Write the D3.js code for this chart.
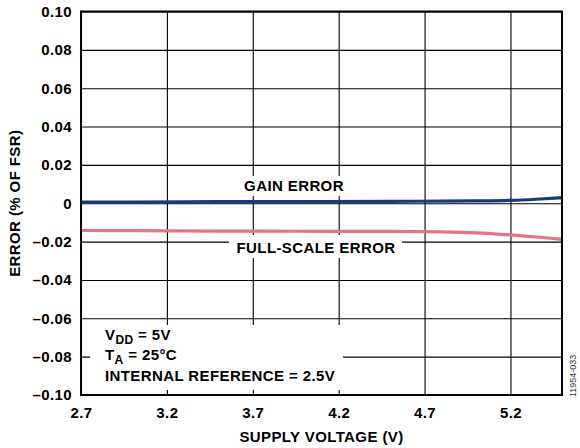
<!DOCTYPE html>
<html>
<head>
<meta charset="utf-8">
<script src="https://cdn.jsdelivr.net/npm/d3@7"></script>
<style>
  body { margin: 0; background: #fff; }
  text { font-family: Arial, "Liberation Sans", sans-serif; }
</style>
</head>
<body>
<div id="graphHolder"></div>
<script>
// supply voltage (V)
var voltage = [2.7, 3.0, 3.5, 4.0, 4.5, 4.8, 5.0, 5.2, 5.35, 5.5];
// error, % of FSR
var gainError = [0.0006, 0.0006, 0.0008, 0.0009, 0.0010, 0.0011, 0.0012, 0.0015, 0.0021, 0.0029];
var fullScaleError = [-0.0142, -0.0143, -0.0145, -0.0146, -0.0147, -0.0149, -0.0154, -0.0165, -0.0176, -0.0188];

var xTicks = [2.7, 3.2, 3.7, 4.2, 4.7, 5.2];
var yTicks = [-0.10, -0.08, -0.06, -0.04, -0.02, 0, 0.02, 0.04, 0.06, 0.08, 0.10];

var graphWidth = 580, graphHeight = 448;
var pLeft = 81, pTop = 11.5, pRight = 562, pBottom = 395;

var svg = d3.select("#graphHolder")
        .append("svg").attr("id", "graph")
        .attr("width", graphWidth)
        .attr("height", graphHeight);

var x = d3.scaleLinear().domain([2.7, 5.5]).range([pLeft, pRight]);
var y = d3.scaleLinear().domain([-0.10, 0.10]).range([pBottom, pTop]);

function fmtY(d) {
    if (Math.abs(d) < 1e-9) return "0";
    return (d < 0 ? "\u2013" : "") + d3.format(".2f")(Math.abs(d));
}

var fontSize = "15px";

var yAxis = svg.append("g")
        .attr("transform", "translate(" + pLeft + ",0)")
        .call(d3.axisLeft(y).tickValues(yTicks).tickFormat(fmtY)
              .tickSizeInner(-(pRight - pLeft)).tickSizeOuter(0).tickPadding(9));
yAxis.select(".domain").remove();

var xAxis = svg.append("g")
        .attr("transform", "translate(0," + pBottom + ")")
        .call(d3.axisBottom(x).tickValues(xTicks).tickFormat(d3.format(".1f"))
              .tickSizeInner(-(pBottom - pTop)).tickSizeOuter(0).tickPadding(12));
xAxis.select(".domain").remove();

svg.selectAll(".tick line").attr("stroke", "#000").attr("stroke-width", 1.1);
svg.selectAll(".tick text")
        .attr("fill", "#000")
        .style("font-size", fontSize)
        .style("font-weight", "bold")
        .style("letter-spacing", "0.4px")
        .style("font-family", "Arial, 'Liberation Sans', sans-serif");

// white boxes behind labels
var boxes = [
    [238, 176, 112, 20],
    [229, 235, 173, 23],
    [90, 325, 253, 65]
];
svg.selectAll("rect.box").data(boxes).enter().append("rect")
        .attr("class", "box")
        .attr("x", function (d) { return d[0]; })
        .attr("y", function (d) { return d[1]; })
        .attr("width", function (d) { return d[2]; })
        .attr("height", function (d) { return d[3]; })
        .attr("fill", "#fff");

function label(tx, ty, anchor) {
    return svg.append("text")
            .attr("x", tx).attr("y", ty)
            .attr("text-anchor", anchor)
            .attr("fill", "#000")
            .style("font-size", fontSize)
            .style("font-weight", "bold")
            .style("letter-spacing", "0.4px");
}

label(294, 191, "middle").text("GAIN ERROR");
label(316, 253, "middle").text("FULL-SCALE ERROR");

var t1 = label(105, 340, "start");
t1.append("tspan").text("V");
t1.append("tspan").attr("dy", 4).style("font-size", "12px").text("DD");
t1.append("tspan").attr("dy", -4).text(" = 5V");

var t2 = label(105, 360, "start");
t2.append("tspan").text("T");
t2.append("tspan").attr("dy", 4).style("font-size", "12px").text("A");
t2.append("tspan").attr("dy", -4).text(" = 25\u00B0C");

label(105, 381, "start").text("INTERNAL REFERENCE = 2.5V");

// curves
var line = d3.line()
        .x(function (d) { return x(d[0]); })
        .y(function (d) { return y(d[1]); })
        .curve(d3.curveMonotoneX);

svg.append("path")
        .datum(d3.zip(voltage, fullScaleError))
        .attr("fill", "none")
        .attr("stroke", "#e8718b")
        .attr("stroke-width", 3.2)
        .attr("d", line);

svg.append("path")
        .datum(d3.zip(voltage, gainError))
        .attr("fill", "none")
        .attr("stroke", "#173a7e")
        .attr("stroke-width", 3.2)
        .attr("d", line);

// plot frame
svg.append("rect")
        .attr("x", pLeft).attr("y", pTop)
        .attr("width", pRight - pLeft).attr("height", pBottom - pTop)
        .attr("fill", "none")
        .attr("stroke", "#000")
        .attr("stroke-width", 2);

// axis titles
label((pLeft + pRight) / 2, 442, "middle").text("SUPPLY VOLTAGE (V)");

svg.append("text")
        .attr("transform", "translate(20," + ((pTop + pBottom) / 2) + ") rotate(-90)")
        .attr("text-anchor", "middle")
        .attr("fill", "#000")
        .style("font-size", fontSize)
        .style("font-weight", "bold")
        .style("letter-spacing", "0.4px")
        .text("ERROR (% OF FSR)");

svg.append("text")
        .attr("transform", "translate(576,397) rotate(-90)")
        .attr("text-anchor", "start")
        .attr("fill", "#333")
        .style("font-size", "9px")
        .text("11954-033");
</script>
</body>
</html>
